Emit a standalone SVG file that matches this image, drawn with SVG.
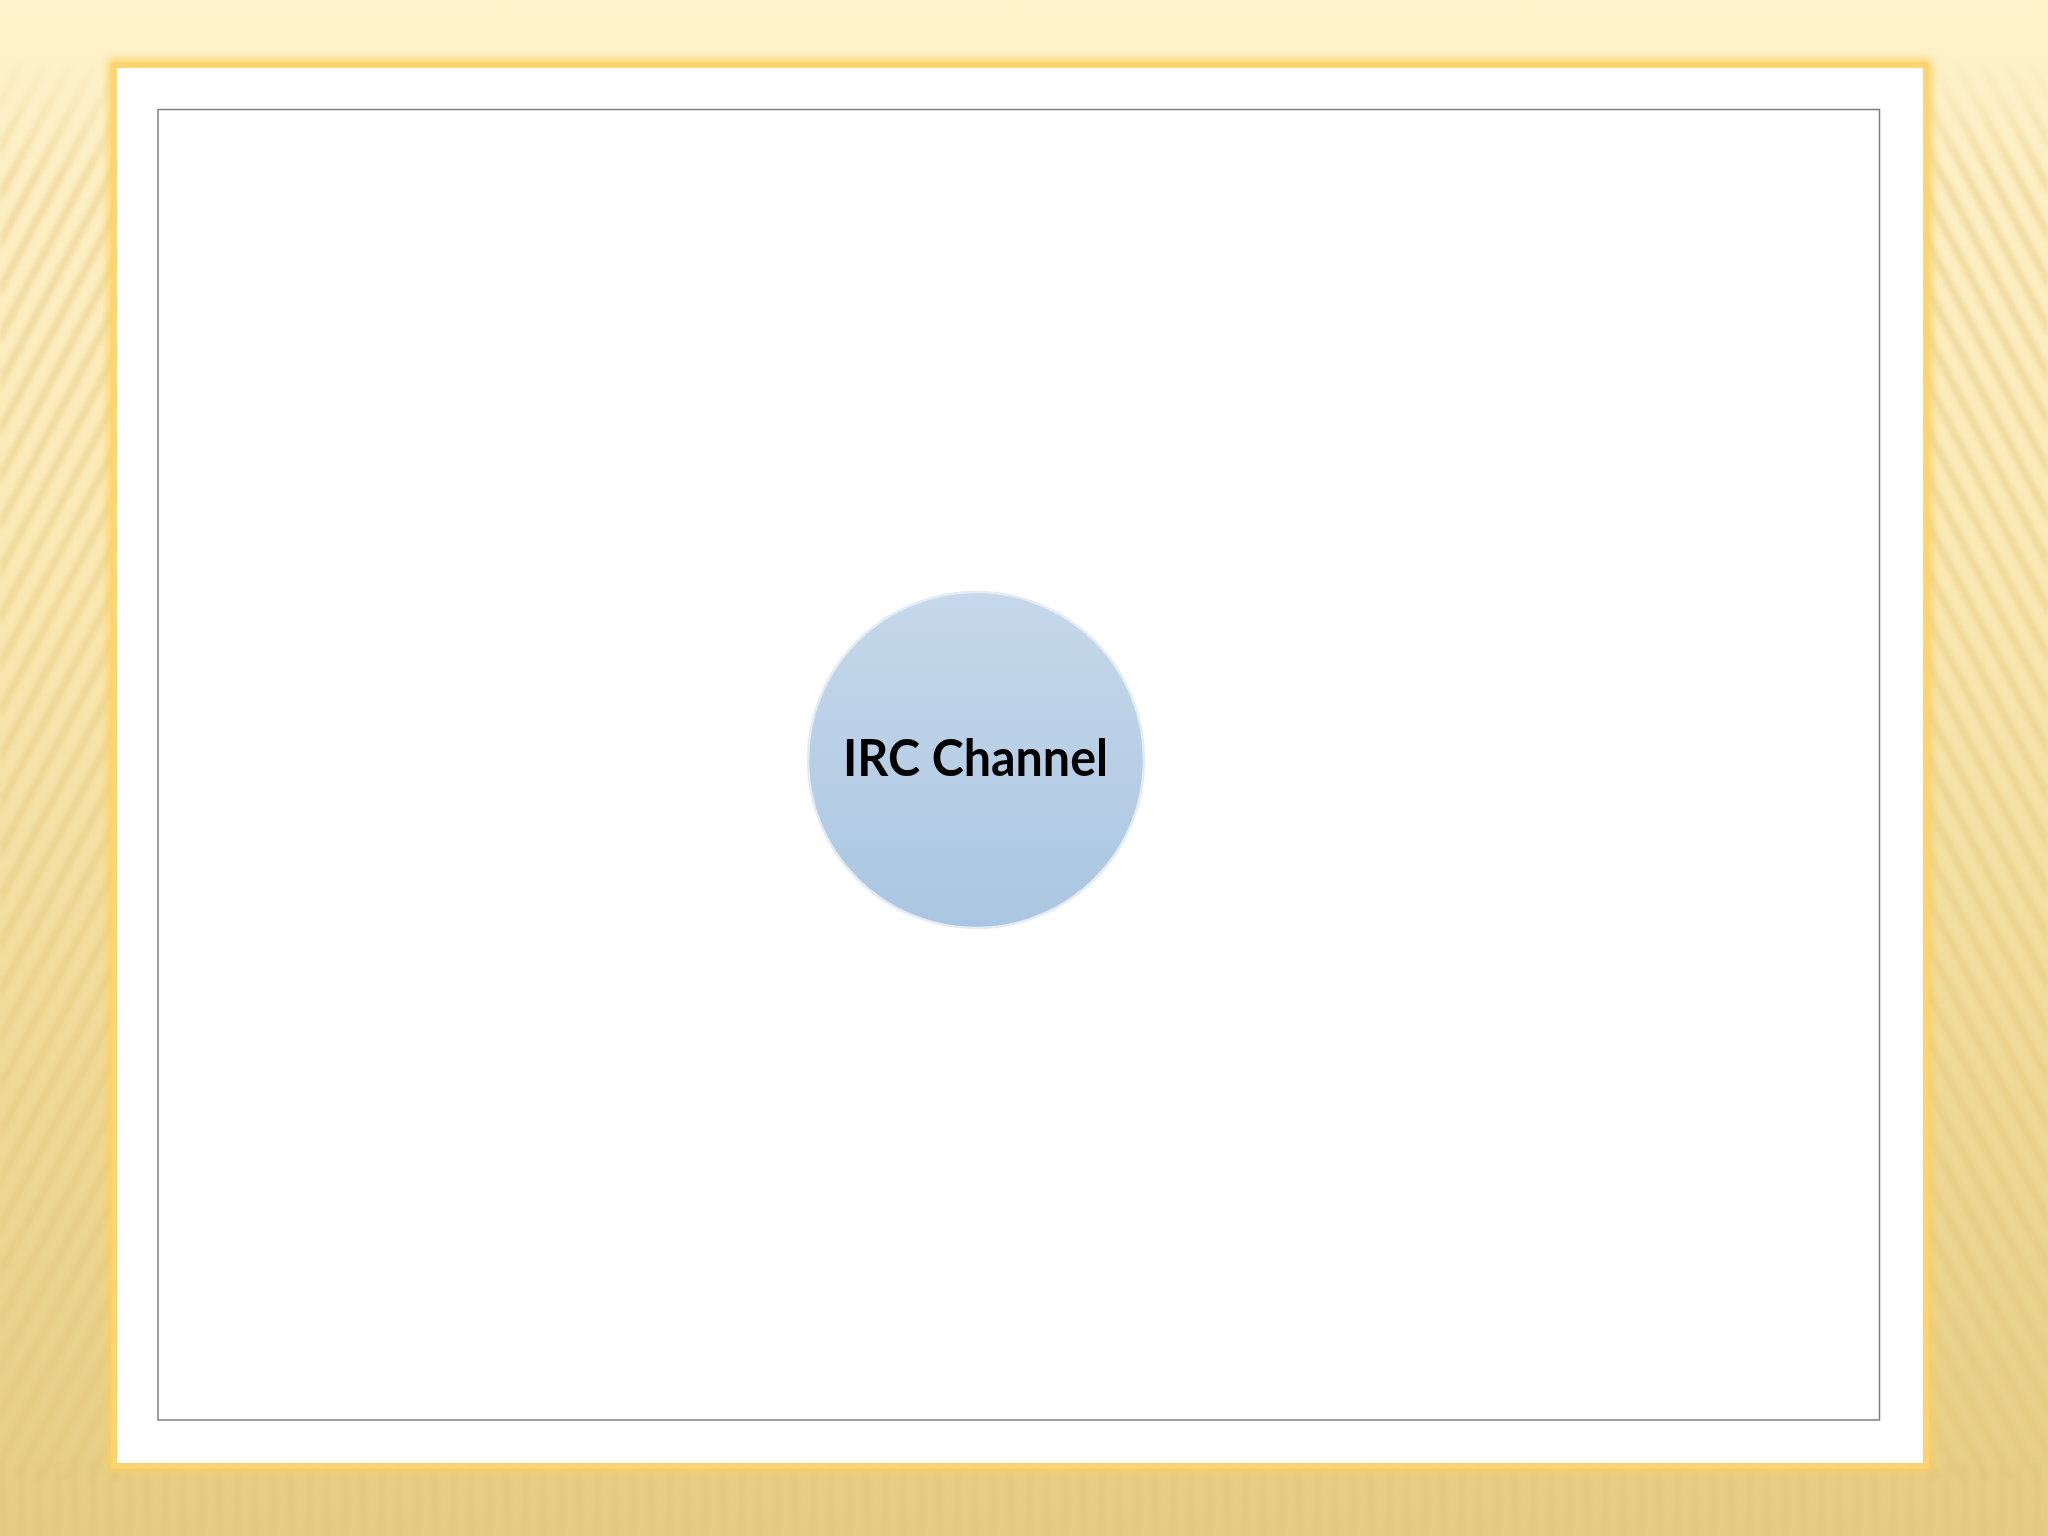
<svg xmlns="http://www.w3.org/2000/svg" width="2048" height="1536" viewBox="0 0 2048 1536">
<defs>
<style>
.frame{fill:none;stroke:#7f7f7f;stroke-width:1.5}
.label{font-family:Lato,"Open Sans","Liberation Sans",sans-serif;font-weight:bold;font-size:52px;fill:#000}
</style>
<linearGradient id="bg" x1="0" y1="0" x2="0" y2="1">
<stop offset="0" stop-color="#fdf2cb"/>
<stop offset="0.35" stop-color="#fbeab5"/>
<stop offset="0.7" stop-color="#f0da98"/>
<stop offset="1" stop-color="#e6cd85"/>
</linearGradient>
<linearGradient id="fadeTop" x1="0" y1="0" x2="0" y2="1">
<stop offset="0" stop-color="#fff" stop-opacity="0"/>
<stop offset="0.08" stop-color="#fff" stop-opacity="1"/>
<stop offset="1" stop-color="#fff" stop-opacity="1"/>
</linearGradient>
<mask id="stripeMask"><rect x="0" y="60" width="2048" height="1476" fill="url(#fadeTop)"/></mask>
<pattern id="stripesL" width="22" height="22" patternUnits="userSpaceOnUse" patternTransform="rotate(28)">
<rect x="0" y="0" width="8" height="22" fill="#e0c477" opacity="0.4"/>
</pattern>
<pattern id="stripesR" width="22" height="22" patternUnits="userSpaceOnUse" patternTransform="rotate(-28)">
<rect x="0" y="0" width="8" height="22" fill="#e0c477" opacity="0.4"/>
</pattern>
<pattern id="stripesB" width="18" height="18" patternUnits="userSpaceOnUse">
<rect x="0" y="0" width="7" height="18" fill="#d9bc70" opacity="0.22"/>
</pattern>
<linearGradient id="circ" x1="0" y1="0" x2="0" y2="1">
<stop offset="0" stop-color="#c6d8ea"/>
<stop offset="1" stop-color="#abc6e2"/>
</linearGradient>
<filter id="glow" x="-5%" y="-5%" width="110%" height="110%">
<feGaussianBlur stdDeviation="4"/>
</filter>
<filter id="soft" x="0" y="0" width="100%" height="100%">
<feGaussianBlur stdDeviation="2"/>
</filter>
</defs>
<rect id="background" x="0" y="0" width="2048" height="1536" fill="url(#bg)"/>
<g id="stripes" mask="url(#stripeMask)" filter="url(#soft)">
<rect x="0" y="60" width="120" height="1420" fill="url(#stripesL)"/>
<rect x="1922" y="60" width="126" height="1420" fill="url(#stripesR)"/>
<rect x="0" y="1463" width="2048" height="73" fill="url(#stripesB)"/>
</g>
<g id="panel">
<rect x="113" y="64" width="1814" height="1403" fill="none" stroke="#fbcf5e" stroke-width="9" filter="url(#glow)"/>
<rect x="114" y="65" width="1812" height="1401" fill="none" stroke="#fcd470" stroke-width="5"/>
<rect x="117" y="68" width="1806" height="1395" fill="#ffffff"/>
<rect class="frame" x="158" y="109.5" width="1721.5" height="1310.5"/>
</g>
<g id="connectors"></g>
<g id="node-irc-channel">
<circle cx="976" cy="760" r="168" fill="url(#circ)" stroke="#e3ebf4" stroke-width="2.5"/>
<text class="label" x="975.5" y="776" text-anchor="middle" textLength="265" lengthAdjust="spacingAndGlyphs">IRC Channel</text>
</g>
</svg>
